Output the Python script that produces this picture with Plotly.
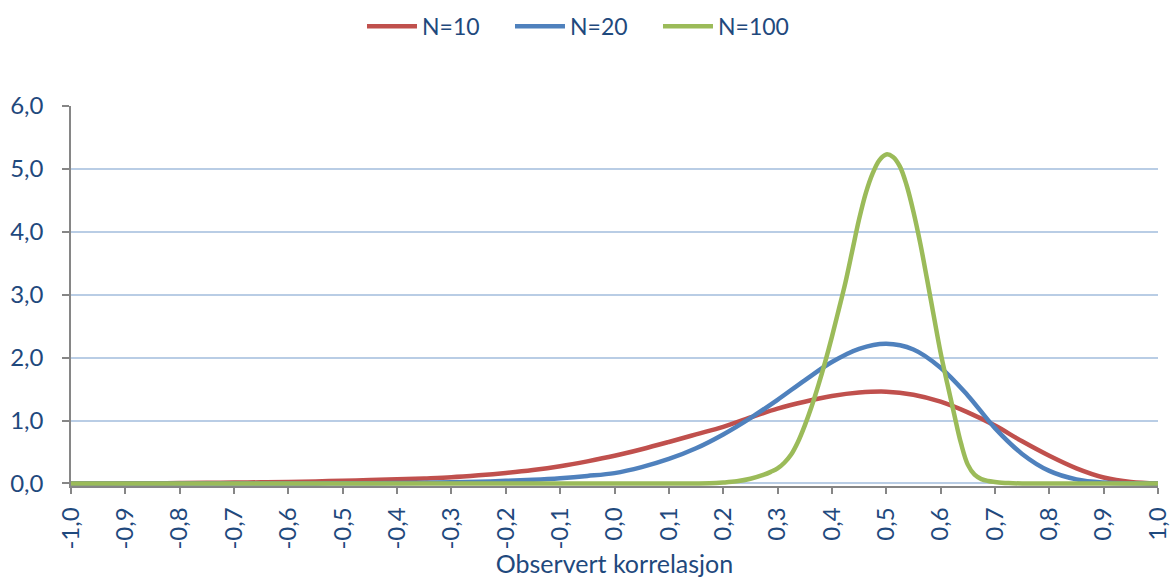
import plotly.graph_objects as go

# ---- data ----
x_grid = [-1.00, -0.95, -0.90, -0.85, -0.80, -0.75, -0.70, -0.65, -0.60, -0.55,
          -0.50, -0.45, -0.40, -0.35, -0.30, -0.25, -0.20, -0.15, -0.10, -0.05,
          0.00, 0.05, 0.10, 0.15, 0.20, 0.25, 0.30, 0.35, 0.40, 0.45,
          0.50, 0.55, 0.60, 0.65, 0.70, 0.75, 0.80, 0.85, 0.90, 0.95, 1.00]

n10 = [0.000, 0.0005, 0.002, 0.004, 0.007, 0.010, 0.014, 0.019, 0.025, 0.033,
       0.043, 0.054, 0.066, 0.081, 0.099, 0.130, 0.168, 0.215, 0.275, 0.352,
       0.440, 0.545, 0.660, 0.780, 0.900, 1.050, 1.190, 1.300, 1.390, 1.445,
       1.460, 1.410, 1.300, 1.130, 0.920, 0.670, 0.440, 0.240, 0.095, 0.022, 0.000]

n20 = [0.000, 0.000, 0.000, 0.000, 0.000, 0.000, 0.0002, 0.0005, 0.001, 0.0015,
       0.003, 0.005, 0.008, 0.012, 0.019, 0.028, 0.042, 0.060, 0.085, 0.120,
       0.165, 0.260, 0.390, 0.560, 0.780, 1.040, 1.330, 1.640, 1.930, 2.140,
       2.220, 2.130, 1.840, 1.400, 0.880, 0.470, 0.200, 0.065, 0.015, 0.002, 0.000]

x_n100 = [-1.00, -0.50, 0.00, 0.10, 0.150, 0.175, 0.200, 0.225, 0.250, 0.275,
          0.2875, 0.300, 0.3125, 0.325, 0.3375, 0.350, 0.3625, 0.375, 0.3875, 0.400,
          0.4125, 0.425, 0.4375, 0.450, 0.4625, 0.475, 0.4875, 0.500, 0.5125, 0.525,
          0.5375, 0.550, 0.5625, 0.575, 0.5875, 0.600, 0.6125, 0.625, 0.6375, 0.650,
          0.6625, 0.675, 0.6875, 0.700, 0.7125, 0.725, 0.750, 0.85, 1.00]
n100 = [0.000, 0.000, 0.000, 0.000, 0.000, 0.003, 0.015, 0.035, 0.075, 0.140,
        0.185, 0.240, 0.330, 0.460, 0.660, 0.920, 1.220, 1.560, 1.930, 2.330,
        2.760, 3.200, 3.700, 4.200, 4.620, 4.930, 5.140, 5.230, 5.190, 5.040,
        4.740, 4.320, 3.820, 3.250, 2.660, 2.080, 1.580, 1.100, 0.640, 0.300,
        0.140, 0.070, 0.040, 0.025, 0.013, 0.006, 0.000, 0.000, 0.000]

series_names = ["N=10", "N=20", "N=100"]
series_colors = ["#C0504D", "#4F81BD", "#9BBB59"]

x_tickvals = [-1.0, -0.9, -0.8, -0.7, -0.6, -0.5, -0.4, -0.3, -0.2, -0.1,
              0.0, 0.1, 0.2, 0.3, 0.4, 0.5, 0.6, 0.7, 0.8, 0.9, 1.0]
x_ticktext = ["-1,0", "-0,9", "-0,8", "-0,7", "-0,6", "-0,5", "-0,4", "-0,3", "-0,2", "-0,1",
              "0,0", "0,1", "0,2", "0,3", "0,4", "0,5", "0,6", "0,7", "0,8", "0,9", "1,0"]
y_tickvals = [0, 1, 2, 3, 4, 5, 6]
y_ticktext = ["0,0", "1,0", "2,0", "3,0", "4,0", "5,0", "6,0"]

x_title = "Observert korrelasjon"

# ---- figure ----
FONT = "Lato, 'Open Sans', sans-serif"
TEXT = "#1F497D"
AXIS = "#868686"
GRID = "#B9CDE5"

fig = go.Figure()
for xs, ys, name, col in [(x_grid, n10, series_names[0], series_colors[0]),
                          (x_grid, n20, series_names[1], series_colors[1]),
                          (x_n100, n100, series_names[2], series_colors[2])]:
    fig.add_trace(go.Scatter(x=xs, y=ys, name=name, mode="lines",
                             line=dict(color=col, width=4.5, shape="spline", smoothing=1.0),
                             cliponaxis=False))

fig.update_layout(
    width=1170, height=578,
    margin=dict(l=71, r=12, t=106, b=92, autoexpand=False),
    paper_bgcolor="white", plot_bgcolor="white",
    font=dict(family=FONT, size=23, color=TEXT),
    showlegend=True,
    legend=dict(orientation="h", x=0.2677, xanchor="left", y=1.21, yanchor="middle",
                font=dict(family=FONT, size=23, color=TEXT),
                bgcolor="rgba(0,0,0,0)", itemwidth=50, tracegroupgap=0,
                entrywidth=83, entrywidthmode="pixels"),
)
fig.update_xaxes(
    range=[-1, 1], tickvals=x_tickvals, ticktext=x_ticktext, tickangle=-90,
    showgrid=False, zeroline=False, showline=True, linecolor=AXIS, linewidth=1.5,
    ticks="outside", ticklen=6, tickcolor=AXIS, tickwidth=1.5, ticklabelstandoff=4,
    ticklabeloverflow="allow",
    tickfont=dict(family=FONT, size=24, color=TEXT),
    title=dict(text=x_title, font=dict(family=FONT, size=25, color=TEXT), standoff=14),
    automargin=False,
)
fig.update_yaxes(
    range=[-0.04, 6], tickvals=y_tickvals, ticktext=y_ticktext,
    showgrid=True, gridcolor=GRID, gridwidth=1.5, zeroline=False,
    showline=True, linecolor=AXIS, linewidth=1.5,
    ticks="outside", ticklen=7, tickcolor=AXIS, tickwidth=1.5, ticklabelstandoff=14,
    ticklabeloverflow="allow",
    tickfont=dict(family=FONT, size=24, color=TEXT), automargin=False,
)

fig.write_html("out.html", config={"displayModeBar": False},
               post_script="document.body.style.margin='0px';")
